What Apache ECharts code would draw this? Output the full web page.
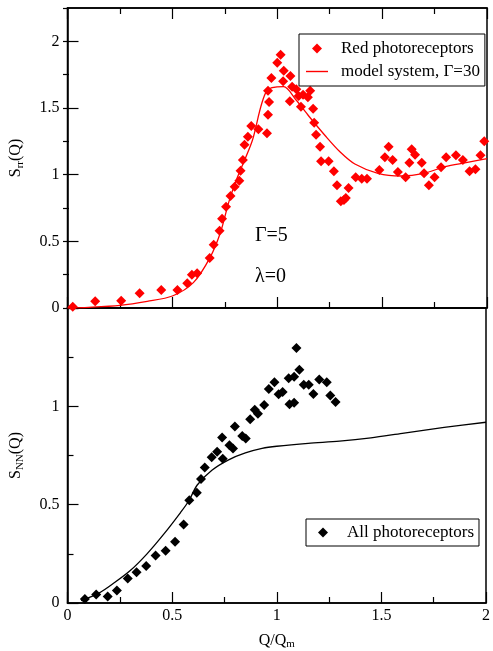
<!DOCTYPE html>
<html>
<head>
<meta charset="utf-8">
<script src="https://cdn.jsdelivr.net/npm/echarts@6/dist/echarts.min.js"></script>
<style>
  html, body { margin: 0; padding: 0; background: #fff; }
  #chart { width: 493px; height: 651px; }
</style>
</head>
<body>
<div id="chart"></div>
<script>
// red photoreceptors, S_rr(Q)
var redQ = [0.025, 0.132, 0.256, 0.344, 0.447, 0.524, 0.571, 0.593, 0.618, 0.678, 0.697, 0.725, 0.737, 0.756, 0.777, 0.797, 0.819, 0.825, 0.836, 0.844, 0.86, 0.876, 0.91, 0.951, 0.956, 0.961, 0.956, 0.972, 1.0, 1.016, 1.031, 1.028, 1.063, 1.071, 1.091, 1.06, 1.102, 1.123, 1.146, 1.157, 1.113, 1.171, 1.176, 1.185, 1.204, 1.209, 1.245, 1.27, 1.285, 1.303, 1.318, 1.327, 1.34, 1.374, 1.403, 1.428, 1.487, 1.513, 1.531, 1.55, 1.575, 1.612, 1.63, 1.641, 1.657, 1.689, 1.70, 1.723, 1.75, 1.781, 1.805, 1.852, 1.885, 1.917, 1.945, 1.969, 1.987]
var redS = [0.01, 0.05, 0.055, 0.11, 0.135, 0.135, 0.185, 0.25, 0.26, 0.375, 0.475, 0.58, 0.67, 0.76, 0.84, 0.91, 0.955, 1.03, 1.11, 1.225, 1.285, 1.365, 1.34, 1.31, 1.45, 1.545, 1.63, 1.725, 1.84, 1.9, 1.78, 1.70, 1.74, 1.66, 1.64, 1.55, 1.59, 1.60, 1.58, 1.63, 1.51, 1.495, 1.39, 1.30, 1.21, 1.10, 1.10, 1.025, 0.92, 0.80, 0.81, 0.825, 0.90, 0.98, 0.97, 0.97, 1.035, 1.13, 1.21, 1.11, 1.02, 0.98, 1.09, 1.19, 1.15, 1.09, 1.01, 0.92, 0.98, 1.055, 1.13, 1.145, 1.11, 1.025, 1.04, 1.145, 1.25]

// model system, Gamma=30
var modelRedQ = [0, 0.1, 0.25, 0.38, 0.5, 0.6, 0.68, 0.73, 0.77, 0.81, 0.88, 0.95, 1.03, 1.09, 1.15, 1.23, 1.3, 1.37, 1.48, 1.59, 1.7, 1.8, 1.9, 2.0]
var modelRedS = [0, 0.005, 0.02, 0.05, 0.09, 0.19, 0.38, 0.57, 0.8, 0.98, 1.25, 1.63, 1.66, 1.56, 1.44, 1.29, 1.17, 1.08, 1.01, 0.99, 1.01, 1.06, 1.09, 1.12]

// all photoreceptors, S_NN(Q)
var allQ = [0.083, 0.137, 0.192, 0.236, 0.288, 0.33, 0.376, 0.421, 0.469, 0.514, 0.555, 0.582, 0.618, 0.638, 0.656, 0.689, 0.715, 0.742, 0.739, 0.774, 0.791, 0.8, 0.835, 0.852, 0.873, 0.895, 0.91, 0.94, 0.962, 0.989, 1.009, 1.028, 1.057, 1.083, 1.094, 1.108, 1.061, 1.083, 1.129, 1.153, 1.175, 1.203, 1.239, 1.256, 1.281]
var allS = [0.02, 0.043, 0.033, 0.063, 0.125, 0.156, 0.188, 0.241, 0.266, 0.312, 0.399, 0.522, 0.561, 0.63, 0.689, 0.741, 0.769, 0.733, 0.842, 0.802, 0.786, 0.897, 0.849, 0.837, 0.934, 0.983, 0.962, 1.007, 1.088, 1.123, 1.061, 1.073, 1.143, 1.151, 1.297, 1.186, 1.01, 1.018, 1.11, 1.11, 1.063, 1.136, 1.123, 1.055, 1.022]

var modelAllQ = [0.065, 0.15, 0.22, 0.3, 0.38, 0.46, 0.54, 0.58, 0.62, 0.69, 0.77, 0.85, 0.93, 1.0, 1.15, 1.3, 1.45, 1.6, 1.8, 2.0]
var modelAllS = [0.012, 0.05, 0.1, 0.165, 0.25, 0.35, 0.46, 0.52, 0.6, 0.675, 0.728, 0.763, 0.786, 0.797, 0.812, 0.823, 0.84, 0.863, 0.893, 0.919]

function pairs(xs, ys) {
  return xs.map(function (x, i) { return [x, ys[i]] })
}

var font = 'Liberation Serif'
var rich = {
  a: { fontFamily: font, fontSize: 16, color: '#000' },
  b: { fontFamily: font, fontSize: 11, color: '#000', verticalAlign: 'bottom', padding: [8, 0, 0, 0] }
}
var diamondIcon = 'path://M5,0L10,5L5,10L0,5Z'
var lineIcon = 'path://M0,0L22,0L22,1.4L0,1.4Z'

function xAxisBase(grid, pos, labels) {
  return {
    type: 'value', gridIndex: grid, position: pos,
    min: 0, max: 2, interval: 0.5,
    axisLine: { show: true, onZero: false, lineStyle: { color: '#000', width: 1.5 } },
    axisTick: { show: true, inside: true, length: 11, lineStyle: { color: '#000', width: 1.2 } },
    minorTick: { show: true, splitNumber: 2, length: 6, lineStyle: { color: '#000', width: 1.2 } },
    axisLabel: {
      show: labels, color: '#000', fontFamily: font, fontSize: 16, margin: 5,
      formatter: function (v) { return String(v) }
    },
    splitLine: { show: false }
  }
}

var xAxes = [
  xAxisBase(0, 'bottom', false),
  xAxisBase(0, 'top', false),
  xAxisBase(1, 'bottom', true),
  { type: 'value', gridIndex: 2, min: 0, max: 2, show: false }
]
xAxes[2].name = '{a|Q/Q}{b|m}'
xAxes[2].nameLocation = 'middle'
xAxes[2].nameGap = 28
xAxes[2].nameTextStyle = { rich: rich }

var chart = echarts.init(document.getElementById('chart'))
chart.setOption({
  animation: false,
  backgroundColor: '#fff',
  grid: [
    { left: 63, top: 8, width: 424, height: 300, show: true, borderColor: '#000', borderWidth: 1.5 },
    { left: 63, top: 308, width: 424, height: 300, show: true, borderColor: '#000', borderWidth: 1.5 },
    { left: 63, top: 8, width: 424, height: 300 }
  ],
  xAxis: xAxes,
  yAxis: [
    {
      type: 'value', gridIndex: 0, min: 0, max: 2.25, interval: 0.5,
      name: '{a|S}{b|rr}{a|(Q)}', nameLocation: 'middle', nameGap: 42, nameTextStyle: { rich: rich },
      axisLine: { show: true, lineStyle: { color: '#000', width: 1.5 } },
      axisTick: { show: true, inside: true, length: 11, lineStyle: { color: '#000', width: 1.2 } },
      axisLabel: { color: '#000', fontFamily: font, fontSize: 16, margin: 8, showMaxLabel: false },
      splitLine: { show: false }
    },
    {
      type: 'value', gridIndex: 1, min: 0, max: 1.5, interval: 0.5,
      name: '{a|S}{b|NN}{a|(Q)}', nameLocation: 'middle', nameGap: 42, nameTextStyle: { rich: rich },
      axisLine: { show: true, lineStyle: { color: '#000', width: 1.5 } },
      axisTick: { show: true, inside: true, length: 11, lineStyle: { color: '#000', width: 1.2 } },
      minorTick: { show: true, splitNumber: 2, length: 6, lineStyle: { color: '#000', width: 1.2 } },
      axisLabel: { color: '#000', fontFamily: font, fontSize: 16, margin: 8, showMaxLabel: false },
      splitLine: { show: false }
    },
    {
      // minor ticks of the upper panel
      type: 'value', gridIndex: 2, min: 0, max: 2.25, interval: 0.25,
      axisLine: { show: false },
      axisTick: { show: true, inside: true, length: 6, lineStyle: { color: '#000', width: 1.2 } },
      axisLabel: { show: false },
      splitLine: { show: false }
    }
  ],
  legend: [
    {
      data: [
        { name: 'Red photoreceptors', icon: diamondIcon },
        { name: 'model system, Γ=30', icon: lineIcon }
      ],
      orient: 'vertical', left: 299, top: 34, symbolKeepAspect: true,
      padding: [6, 5, 6, 7], itemGap: 6, itemWidth: 22, itemHeight: 10,
      borderColor: '#000', borderWidth: 1, borderRadius: 0,
      textStyle: { fontFamily: font, fontSize: 17, color: '#000', padding: [0, 0, 0, 8] }
    },
    {
      data: [{ name: 'All photoreceptors', icon: diamondIcon }],
      orient: 'vertical', left: 306, top: 519, symbolKeepAspect: true,
      padding: [5, 5, 5, 12], itemWidth: 22, itemHeight: 10,
      borderColor: '#000', borderWidth: 1, borderRadius: 0,
      textStyle: { fontFamily: font, fontSize: 17, color: '#000', padding: [0, 0, 0, 8] }
    }
  ],
  graphic: [
    { type: 'text', left: 255, top: 226, style: { text: 'Γ=5', font: '20px "Liberation Serif"', fill: '#000' } },
    { type: 'text', left: 255, top: 267, style: { text: 'λ=0', font: '20px "Liberation Serif"', fill: '#000' } }
  ],
  series: [
    {
      name: 'Red photoreceptors', type: 'scatter', xAxisIndex: 0, yAxisIndex: 0,
      symbol: 'diamond', symbolSize: 10, itemStyle: { color: '#ff0000', opacity: 1 },
      data: pairs(redQ, redS), z: 3
    },
    {
      name: 'model system, Γ=30', type: 'line', xAxisIndex: 0, yAxisIndex: 0,
      symbol: 'none', smooth: 0.3, lineStyle: { color: '#ff0000', width: 1.3 }, itemStyle: { color: '#ff0000' },
      data: pairs(modelRedQ, modelRedS), z: 2
    },
    {
      name: 'All photoreceptors', type: 'scatter', xAxisIndex: 2, yAxisIndex: 1,
      symbol: 'diamond', symbolSize: 10, itemStyle: { color: '#000', opacity: 1 },
      data: pairs(allQ, allS), z: 3
    },
    {
      name: 'model all', type: 'line', xAxisIndex: 2, yAxisIndex: 1,
      symbol: 'none', smooth: 0.3, lineStyle: { color: '#000', width: 1.3 },
      data: pairs(modelAllQ, modelAllS), z: 2
    }
  ]
})
</script>
</body>
</html>
